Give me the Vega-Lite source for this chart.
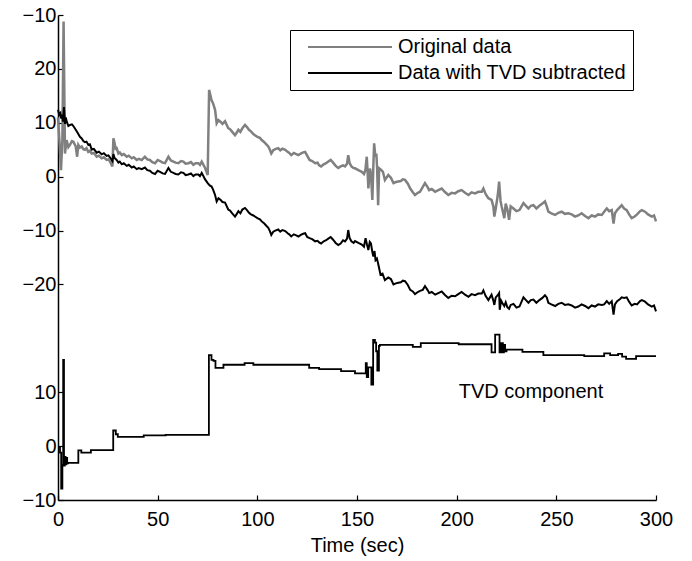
{
  "$schema": "https://vega.github.io/schema/vega-lite/v6.json",
  "width": 598,
  "height": 485,
  "autosize": {"type": "none"},
  "padding": {"left": 58, "top": 15, "right": 36, "bottom": 61},
  "config": {
    "view": {"stroke": null},
    "font": "Liberation Sans",
    "axis": {"grid": false, "domainColor": "black", "domainWidth": 1.5, "tickColor": "black", "tickWidth": 1.2, "labelColor": "black", "labelFontSize": 20, "labelFont": "Liberation Sans", "titleColor": "black", "titleFont": "Liberation Sans", "titleFontSize": 20, "titleFontWeight": "normal"},
    "legend": {"labelFont": "Liberation Sans"}
  },
  "datasets": {
    "orig": [
      {"t":0,"v":11.0},{"t":0.8,"v":6.2},{"t":1.5,"v":1.2},{"t":2.2,"v":6.8},{"t":2.8,"v":28.8},{"t":3.5,"v":4.3},{"t":4.3,"v":6.8},{"t":5.2,"v":5.5},{"t":6,"v":5.9},{"t":7,"v":6.6},{"t":7.7,"v":6.5},{"t":8.9,"v":5.6},{"t":9.6,"v":3.7},{"t":10.2,"v":5.9},{"t":11,"v":5.4},{"t":11.9,"v":5.6},{"t":12.7,"v":5.1},{"t":13.5,"v":5.0},{"t":14.3,"v":5.3},{"t":15.2,"v":4.6},{"t":16,"v":4.8},{"t":16.9,"v":4.3},{"t":18,"v":4.4},{"t":19.4,"v":3.7},{"t":20.5,"v":3.9},{"t":21.9,"v":3.4},{"t":23,"v":3.6},{"t":24.4,"v":3.1},{"t":25.3,"v":3.2},{"t":26.1,"v":2.8},{"t":27.3,"v":1.9},{"t":27.8,"v":7.1},{"t":28.3,"v":6.4},{"t":28.9,"v":5.2},{"t":29.4,"v":5.3},{"t":30.3,"v":4.3},{"t":31,"v":4.5},{"t":32,"v":4.0},{"t":33,"v":4.2},{"t":34.5,"v":3.7},{"t":35.5,"v":3.9},{"t":37,"v":3.4},{"t":38,"v":3.6},{"t":39.5,"v":3.1},{"t":40.5,"v":3.3},{"t":42,"v":3.1},{"t":43.6,"v":3.7},{"t":44.8,"v":3.2},{"t":46.1,"v":3.1},{"t":47.3,"v":2.7},{"t":48.7,"v":2.5},{"t":50,"v":3.1},{"t":51.2,"v":2.9},{"t":52.5,"v":2.6},{"t":53.7,"v":2.5},{"t":55.4,"v":3.7},{"t":56.6,"v":3.0},{"t":57.9,"v":2.8},{"t":59,"v":2.6},{"t":60.4,"v":2.5},{"t":61.7,"v":2.9},{"t":62.9,"v":2.8},{"t":64,"v":2.4},{"t":65.4,"v":2.5},{"t":66.7,"v":2.7},{"t":67.9,"v":2.2},{"t":69,"v":2.5},{"t":70.4,"v":2.5},{"t":71.2,"v":2.2},{"t":72.1,"v":2.8},{"t":73.8,"v":1.6},{"t":75.1,"v":0.3},{"t":75.8,"v":16.1},{"t":76.4,"v":15.2},{"t":77,"v":14.2},{"t":77.8,"v":13.6},{"t":78.8,"v":12.4},{"t":79.6,"v":9.9},{"t":80.5,"v":10.5},{"t":81.5,"v":10.2},{"t":82.5,"v":9.8},{"t":83.8,"v":10.3},{"t":85.4,"v":9.0},{"t":86.3,"v":8.8},{"t":87.2,"v":8.4},{"t":88.8,"v":7.7},{"t":89.7,"v":8.2},{"t":90.5,"v":8.7},{"t":91.5,"v":8.3},{"t":92.5,"v":9.0},{"t":93.8,"v":9.6},{"t":94.8,"v":9.2},{"t":95.8,"v":8.7},{"t":96.8,"v":8.4},{"t":98,"v":7.9},{"t":98.8,"v":7.7},{"t":100,"v":7.4},{"t":101.3,"v":7.2},{"t":102.2,"v":6.8},{"t":103.5,"v":6.4},{"t":104.5,"v":6.0},{"t":105.5,"v":5.6},{"t":106.3,"v":5.0},{"t":107,"v":4.3},{"t":108,"v":4.9},{"t":109,"v":5.1},{"t":110.5,"v":5.3},{"t":111.5,"v":4.9},{"t":112.6,"v":5.2},{"t":114,"v":5.0},{"t":115.2,"v":4.6},{"t":116,"v":4.4},{"t":117,"v":4.0},{"t":118.3,"v":4.4},{"t":119.5,"v":4.2},{"t":120.6,"v":4.0},{"t":121.8,"v":4.3},{"t":123,"v":4.5},{"t":124,"v":4.6},{"t":125,"v":3.9},{"t":126.2,"v":3.1},{"t":127.5,"v":2.9},{"t":129,"v":2.5},{"t":130.2,"v":2.6},{"t":131,"v":2.1},{"t":132,"v":1.9},{"t":133.3,"v":2.3},{"t":134.5,"v":2.5},{"t":135.6,"v":2.8},{"t":136.8,"v":3.1},{"t":138,"v":2.6},{"t":139.3,"v":2.0},{"t":140.6,"v":1.6},{"t":141.8,"v":1.9},{"t":143,"v":2.1},{"t":144,"v":1.9},{"t":145,"v":2.4},{"t":145.6,"v":4.0},{"t":146.3,"v":2.5},{"t":147.2,"v":1.9},{"t":148.3,"v":1.6},{"t":149,"v":1.55},{"t":150.7,"v":1.2},{"t":152.4,"v":0.9},{"t":153.5,"v":0.5},{"t":154.2,"v":1.2},{"t":154.9,"v":3.7},{"t":155.3,"v":1.0},{"t":155.7,"v":-2.2},{"t":156.5,"v":1.5},{"t":157,"v":0.5},{"t":157.7,"v":-4.3},{"t":158.2,"v":2.0},{"t":158.6,"v":6.2},{"t":159.2,"v":3.7},{"t":159.7,"v":4.3},{"t":160.1,"v":1.5},{"t":160.6,"v":-5.3},{"t":161.1,"v":1.55},{"t":162,"v":1.3},{"t":163,"v":0.9},{"t":164,"v":-0.6},{"t":165.7,"v":0.3},{"t":167,"v":-0.2},{"t":168.3,"v":-1.2},{"t":169.5,"v":-1.0},{"t":170.7,"v":-0.9},{"t":172,"v":-0.8},{"t":173,"v":-0.5},{"t":174.1,"v":-0.6},{"t":175.5,"v":-1.3},{"t":176.7,"v":-2.2},{"t":178,"v":-2.9},{"t":179.1,"v":-3.4},{"t":180.5,"v":-3.0},{"t":181.6,"v":-2.8},{"t":183,"v":-1.9},{"t":184.1,"v":-1.2},{"t":185.5,"v":-2.0},{"t":186.2,"v":-2.5},{"t":187.5,"v":-2.3},{"t":189.2,"v":-2.8},{"t":190.8,"v":-2.5},{"t":192.5,"v":-2.2},{"t":194,"v":-2.8},{"t":195.8,"v":-3.4},{"t":197.5,"v":-3.0},{"t":199.2,"v":-3.1},{"t":200.8,"v":-2.7},{"t":202.5,"v":-2.5},{"t":204.2,"v":-3.0},{"t":205.9,"v":-3.4},{"t":207.5,"v":-2.9},{"t":209.2,"v":-3.1},{"t":210.9,"v":-2.8},{"t":212.6,"v":-2.8},{"t":213.4,"v":-2.2},{"t":214.5,"v":-3.2},{"t":215.9,"v":-4.0},{"t":217.5,"v":-4.3},{"t":218.4,"v":-5.5},{"t":218.9,"v":-7.4},{"t":219.6,"v":-5.9},{"t":220.6,"v":-3.5},{"t":221.3,"v":-0.9},{"t":222,"v":-4.5},{"t":222.6,"v":-5.6},{"t":223.9,"v":-7.7},{"t":224.6,"v":-5.0},{"t":225.4,"v":-6.0},{"t":226.3,"v":-8.0},{"t":227.1,"v":-5.5},{"t":228.5,"v":-5.9},{"t":230,"v":-6.4},{"t":231.5,"v":-6.2},{"t":233.5,"v":-4.9},{"t":235,"v":-5.5},{"t":236,"v":-5.9},{"t":237.2,"v":-5.4},{"t":238.5,"v":-5.3},{"t":240,"v":-5.9},{"t":241.5,"v":-5.4},{"t":243,"v":-5.0},{"t":244.3,"v":-4.6},{"t":245.2,"v":-5.5},{"t":246,"v":-6.5},{"t":247.5,"v":-6.8},{"t":249.4,"v":-7.1},{"t":251,"v":-6.7},{"t":252.7,"v":-6.5},{"t":254.3,"v":-6.9},{"t":256,"v":-6.8},{"t":257.7,"v":-7.0},{"t":259.4,"v":-7.4},{"t":261,"v":-7.2},{"t":262.7,"v":-6.8},{"t":264.4,"v":-7.3},{"t":266.1,"v":-7.7},{"t":267.7,"v":-7.2},{"t":269.4,"v":-7.4},{"t":271,"v":-7.0},{"t":272.8,"v":-7.1},{"t":274,"v":-6.5},{"t":275.3,"v":-5.9},{"t":276.5,"v":-6.4},{"t":277.8,"v":-6.2},{"t":278.7,"v":-8.7},{"t":279.4,"v":-6.8},{"t":280.5,"v":-6.2},{"t":282,"v":-5.6},{"t":282.8,"v":-5.3},{"t":284,"v":-5.9},{"t":285.3,"v":-6.2},{"t":286.5,"v":-7.0},{"t":287.8,"v":-7.7},{"t":289.3,"v":-7.4},{"t":290.5,"v":-7.0},{"t":292,"v":-6.4},{"t":292.9,"v":-6.2},{"t":294.5,"v":-6.5},{"t":296,"v":-7.0},{"t":297.9,"v":-7.4},{"t":299,"v":-7.2},{"t":300,"v":-8.3}
    ],
    "sub": [
      {"t":0,"v":12.4},{"t":0.6,"v":11.5},{"t":1.2,"v":11.8},{"t":1.5,"v":10.8},{"t":2.0,"v":11.5},{"t":2.5,"v":10.2},{"t":3.0,"v":12.9},{"t":3.5,"v":9.8},{"t":3.9,"v":11.0},{"t":4.4,"v":10.2},{"t":5.2,"v":9.4},{"t":6,"v":9.6},{"t":7,"v":9.7},{"t":7.7,"v":9.4},{"t":8.9,"v":8.7},{"t":9.6,"v":8.3},{"t":10.2,"v":7.9},{"t":11,"v":7.4},{"t":11.9,"v":7.1},{"t":12.7,"v":6.6},{"t":13.5,"v":6.4},{"t":14.3,"v":6.5},{"t":15.2,"v":5.9},{"t":16,"v":6.0},{"t":16.9,"v":5.05},{"t":18,"v":5.15},{"t":19.4,"v":4.45},{"t":20.5,"v":4.65},{"t":21.9,"v":4.15},{"t":23,"v":4.35},{"t":24.4,"v":3.85},{"t":25.3,"v":3.95},{"t":26.1,"v":3.55},{"t":27.3,"v":2.9},{"t":27.8,"v":4.2},{"t":28.3,"v":3.5},{"t":28.9,"v":3.3},{"t":29.4,"v":3.1},{"t":30.3,"v":2.6},{"t":31,"v":2.8},{"t":32,"v":2.3},{"t":33,"v":2.5},{"t":34.5,"v":2.0},{"t":35.5,"v":2.2},{"t":37,"v":1.7},{"t":38,"v":1.9},{"t":39.5,"v":1.4},{"t":40.5,"v":1.6},{"t":42,"v":1.4},{"t":43.6,"v":1.7},{"t":44.8,"v":1.2},{"t":46.1,"v":1.1},{"t":47.3,"v":0.7},{"t":48.7,"v":0.5},{"t":50,"v":1.1},{"t":51.2,"v":0.9},{"t":52.5,"v":0.6},{"t":53.7,"v":0.5},{"t":55.4,"v":1.6},{"t":56.6,"v":0.9},{"t":57.9,"v":0.7},{"t":59,"v":0.5},{"t":60.4,"v":0.4},{"t":61.7,"v":0.8},{"t":62.9,"v":0.7},{"t":64,"v":0.3},{"t":65.4,"v":0.4},{"t":66.7,"v":0.6},{"t":67.9,"v":0.1},{"t":69,"v":0.4},{"t":70.4,"v":0.4},{"t":71.2,"v":0.1},{"t":72.1,"v":0.7},{"t":73.8,"v":-0.5},{"t":75.1,"v":-1.2},{"t":75.8,"v":-1.5},{"t":76.4,"v":-1.7},{"t":77,"v":-1.8},{"t":77.8,"v":-2.4},{"t":78.8,"v":-3.4},{"t":79.6,"v":-4.6},{"t":80.5,"v":-4.0},{"t":81.5,"v":-4.3},{"t":82.5,"v":-4.7},{"t":83.8,"v":-4.8},{"t":85.4,"v":-6.1},{"t":86.3,"v":-6.3},{"t":87.2,"v":-6.7},{"t":88.8,"v":-7.4},{"t":89.7,"v":-6.9},{"t":90.5,"v":-6.4},{"t":91.5,"v":-6.8},{"t":92.5,"v":-6.1},{"t":93.8,"v":-5.8},{"t":94.8,"v":-6.2},{"t":95.8,"v":-6.7},{"t":96.8,"v":-7.0},{"t":98,"v":-7.2},{"t":98.8,"v":-7.4},{"t":100,"v":-7.7},{"t":101.3,"v":-7.9},{"t":102.2,"v":-8.3},{"t":103.5,"v":-8.7},{"t":104.5,"v":-9.1},{"t":105.5,"v":-9.5},{"t":106.3,"v":-10.1},{"t":107,"v":-10.8},{"t":108,"v":-10.2},{"t":109,"v":-10.0},{"t":110.5,"v":-9.8},{"t":111.5,"v":-10.2},{"t":112.6,"v":-9.9},{"t":114,"v":-10.1},{"t":115.2,"v":-10.5},{"t":116,"v":-10.7},{"t":117,"v":-11.1},{"t":118.3,"v":-10.7},{"t":119.5,"v":-10.9},{"t":120.6,"v":-11.1},{"t":121.8,"v":-10.8},{"t":123,"v":-10.6},{"t":124,"v":-10.5},{"t":125,"v":-11.2},{"t":126.2,"v":-11.4},{"t":127.5,"v":-11.6},{"t":129,"v":-12.0},{"t":130.2,"v":-11.9},{"t":131,"v":-12.2},{"t":132,"v":-12.4},{"t":133.3,"v":-12.0},{"t":134.5,"v":-11.8},{"t":135.6,"v":-11.5},{"t":136.8,"v":-11.2},{"t":138,"v":-11.7},{"t":139.3,"v":-12.3},{"t":140.6,"v":-12.7},{"t":141.8,"v":-12.4},{"t":143,"v":-11.8},{"t":144,"v":-12.0},{"t":145,"v":-11.5},{"t":145.6,"v":-9.9},{"t":146.3,"v":-11.4},{"t":147.2,"v":-12.0},{"t":148.3,"v":-12.3},{"t":149,"v":-11.95},{"t":150.7,"v":-12.3},{"t":152.4,"v":-12.6},{"t":153.5,"v":-13.0},{"t":154.3,"v":-11.4},{"t":155,"v":-12.6},{"t":155.7,"v":-13.6},{"t":156.4,"v":-12.1},{"t":157,"v":-12.4},{"t":157.7,"v":-14.0},{"t":158.2,"v":-14.8},{"t":158.8,"v":-13.8},{"t":159.3,"v":-15.5},{"t":160,"v":-15.2},{"t":160.6,"v":-16.1},{"t":161.1,"v":-17.0},{"t":161.8,"v":-18.2},{"t":162.8,"v":-18.0},{"t":164,"v":-19.2},{"t":165.7,"v":-18.7},{"t":167,"v":-19.0},{"t":168.3,"v":-20.0},{"t":169.5,"v":-19.8},{"t":170.7,"v":-19.7},{"t":172,"v":-19.6},{"t":173,"v":-19.3},{"t":174.1,"v":-19.4},{"t":175.5,"v":-20.1},{"t":176.7,"v":-21.0},{"t":178,"v":-21.3},{"t":179.1,"v":-21.8},{"t":180.5,"v":-21.4},{"t":181.6,"v":-21.2},{"t":183,"v":-21.0},{"t":184.1,"v":-20.3},{"t":185.5,"v":-21.1},{"t":186.2,"v":-21.6},{"t":187.5,"v":-21.4},{"t":189.2,"v":-21.9},{"t":190.8,"v":-21.6},{"t":192.5,"v":-21.3},{"t":194,"v":-21.9},{"t":195.8,"v":-22.5},{"t":197.5,"v":-22.1},{"t":199.2,"v":-22.2},{"t":200.8,"v":-21.8},{"t":202.5,"v":-21.4},{"t":204.2,"v":-21.9},{"t":205.9,"v":-22.3},{"t":207.5,"v":-21.8},{"t":209.2,"v":-22.0},{"t":210.9,"v":-21.7},{"t":212.6,"v":-21.7},{"t":213.4,"v":-21.1},{"t":214.5,"v":-22.1},{"t":215.9,"v":-22.9},{"t":217.5,"v":-21.9},{"t":218.4,"v":-23.0},{"t":218.9,"v":-23.8},{"t":219.6,"v":-22.4},{"t":220.6,"v":-22.0},{"t":221.3,"v":-21.6},{"t":221.6,"v":-24.7},{"t":222.3,"v":-23.0},{"t":223,"v":-23.5},{"t":223.9,"v":-24.0},{"t":224.6,"v":-23.3},{"t":225.4,"v":-24.2},{"t":226.3,"v":-24.5},{"t":227.1,"v":-23.8},{"t":228.5,"v":-23.6},{"t":230,"v":-24.3},{"t":231.5,"v":-24.1},{"t":233.5,"v":-22.4},{"t":235,"v":-23.0},{"t":236,"v":-23.4},{"t":237.2,"v":-22.9},{"t":238.5,"v":-22.8},{"t":240,"v":-23.4},{"t":241.5,"v":-22.9},{"t":243,"v":-22.5},{"t":244.3,"v":-22.0},{"t":245.2,"v":-22.4},{"t":246,"v":-23.4},{"t":247.5,"v":-23.7},{"t":249.4,"v":-24.0},{"t":251,"v":-23.6},{"t":252.7,"v":-23.4},{"t":254.3,"v":-23.8},{"t":256,"v":-23.7},{"t":257.7,"v":-23.9},{"t":259.4,"v":-24.3},{"t":261,"v":-24.1},{"t":262.7,"v":-23.7},{"t":264.4,"v":-24.0},{"t":266.1,"v":-24.4},{"t":267.7,"v":-23.9},{"t":269.4,"v":-24.1},{"t":271,"v":-23.7},{"t":272.8,"v":-23.8},{"t":274,"v":-23.7},{"t":275.3,"v":-23.1},{"t":276.5,"v":-23.6},{"t":277.8,"v":-23.1},{"t":278.7,"v":-25.6},{"t":279.4,"v":-23.7},{"t":280.5,"v":-23.1},{"t":282,"v":-22.7},{"t":282.8,"v":-22.4},{"t":284,"v":-22.5},{"t":285.3,"v":-22.4},{"t":286.5,"v":-23.2},{"t":287.8,"v":-23.9},{"t":289.3,"v":-23.6},{"t":290.5,"v":-23.7},{"t":292,"v":-23.1},{"t":292.9,"v":-22.9},{"t":294.5,"v":-23.2},{"t":296,"v":-23.7},{"t":297.9,"v":-24.1},{"t":299,"v":-23.9},{"t":300,"v":-25.0}
    ],
    "tvd": [
      {"t":0,"v":-0.2},{"t":1.0,"v":-1.2},{"t":1.6,"v":-7.9},{"t":2.2,"v":-3.5},{"t":2.6,"v":16.0},{"t":3.0,"v":-3.6},{"t":3.4,"v":-2.0},{"t":3.8,"v":-3.4},{"t":4.2,"v":-2.2},{"t":4.6,"v":-3.2},{"t":5.0,"v":-3.1},{"t":10.2,"v":-0.8},{"t":11.7,"v":-1.2},{"t":16.5,"v":-0.75},{"t":27.7,"v":2.9},{"t":29,"v":2.2},{"t":30,"v":1.7},{"t":43,"v":2.0},{"t":54,"v":2.1},{"t":75.7,"v":16.9},{"t":77,"v":16.0},{"t":78,"v":15.8},{"t":79,"v":14.5},{"t":83,"v":15.1},{"t":93.6,"v":15.4},{"t":98,"v":15.1},{"t":126,"v":14.5},{"t":131,"v":14.3},{"t":142,"v":13.9},{"t":149,"v":13.5},{"t":154.4,"v":15.4},{"t":154.9,"v":12.8},{"t":155.6,"v":14.6},{"t":157.2,"v":11.4},{"t":158.1,"v":19.7},{"t":159,"v":19.2},{"t":159.6,"v":17.6},{"t":160.2,"v":14.0},{"t":161,"v":18.6},{"t":161.5,"v":18.8},{"t":178,"v":18.4},{"t":182,"v":19.1},{"t":201,"v":18.9},{"t":217.5,"v":17.4},{"t":219.3,"v":20.7},{"t":221.5,"v":17.4},{"t":222.3,"v":19.1},{"t":223.2,"v":17.4},{"t":223.7,"v":18.8},{"t":224.3,"v":17.6},{"t":225,"v":17.9},{"t":233,"v":17.5},{"t":243.5,"v":16.9},{"t":264,"v":16.7},{"t":274,"v":17.2},{"t":277,"v":16.9},{"t":281,"v":17.1},{"t":283,"v":16.6},{"t":285,"v":16.2},{"t":290,"v":16.7},{"t":300,"v":16.7}
    ],
    "note": [{"t":237.3,"v":10.0,"label":"TVD component"}]
  },
  "layer": [
    {
      "layer": [
        {
          "data": {"name": "orig"},
          "mark": {"type": "line", "strokeWidth": 2.5},
          "encoding": {
            "x": {"field": "t", "type": "quantitative", "scale": {"domain": [0, 300], "nice": false}, "axis": {"values": [0, 50, 100, 150, 200, 250, 300], "tickSize": -5, "labelPadding": 14, "labelFlush": false, "title": "Time (sec)", "titlePadding": 6}},
            "y": {"field": "v", "type": "quantitative", "scale": {"domain": [-60, 30], "nice": false, "zero": false}, "axis": {"values": [30, 20, 10, 0, -10, -20, -40, -50, -60], "tickSize": -5, "labelPadding": 7, "title": null, "labelExpr": "datum.value == 30 ? '\u221210' : (datum.value < -30 ? replace(format(datum.value + 50, 'd'), '-', '\u2212') : replace(format(datum.value, 'd'), '-', '\u2212'))"}},
            "color": {"datum": "Original data", "type": "nominal", "scale": {"domain": ["Original data", "Data with TVD subtracted"], "range": ["#808080", "#000000"]}, "legend": {"orient": "none", "legendX": 232, "legendY": 15, "title": null, "strokeColor": "black", "fillColor": "white", "padding": 7, "symbolType": "M-8.4,0H8.4", "symbolSize": 100, "symbolStrokeWidth": 2.2, "symbolOffset": 43, "labelOffset": 38, "labelFontSize": 20, "labelColor": "black", "labelLimit": 500, "rowPadding": 6}}
          }
        },
        {
          "data": {"name": "sub"},
          "mark": {"type": "line", "strokeWidth": 2},
          "encoding": {
            "x": {"field": "t", "type": "quantitative"},
            "y": {"field": "v", "type": "quantitative"},
            "color": {"datum": "Data with TVD subtracted", "type": "nominal"}
          }
        }
      ]
    },
    {
      "layer": [
        {
          "data": {"name": "tvd"},
          "mark": {"type": "line", "interpolate": "step-after", "color": "black", "strokeWidth": 1.8},
          "encoding": {
            "x": {"field": "t", "type": "quantitative"},
            "y": {"field": "v", "type": "quantitative", "scale": {"domain": [-10, 80], "nice": false, "zero": false}, "axis": null}
          }
        },
        {
          "data": {"name": "note"},
          "mark": {"type": "text", "fontSize": 20, "font": "Liberation Sans", "color": "black", "align": "center", "baseline": "middle"},
          "encoding": {
            "x": {"field": "t", "type": "quantitative"},
            "y": {"field": "v", "type": "quantitative"},
            "text": {"field": "label"}
          }
        }
      ]
    }
  ],
  "resolve": {"scale": {"y": "independent"}}
}
